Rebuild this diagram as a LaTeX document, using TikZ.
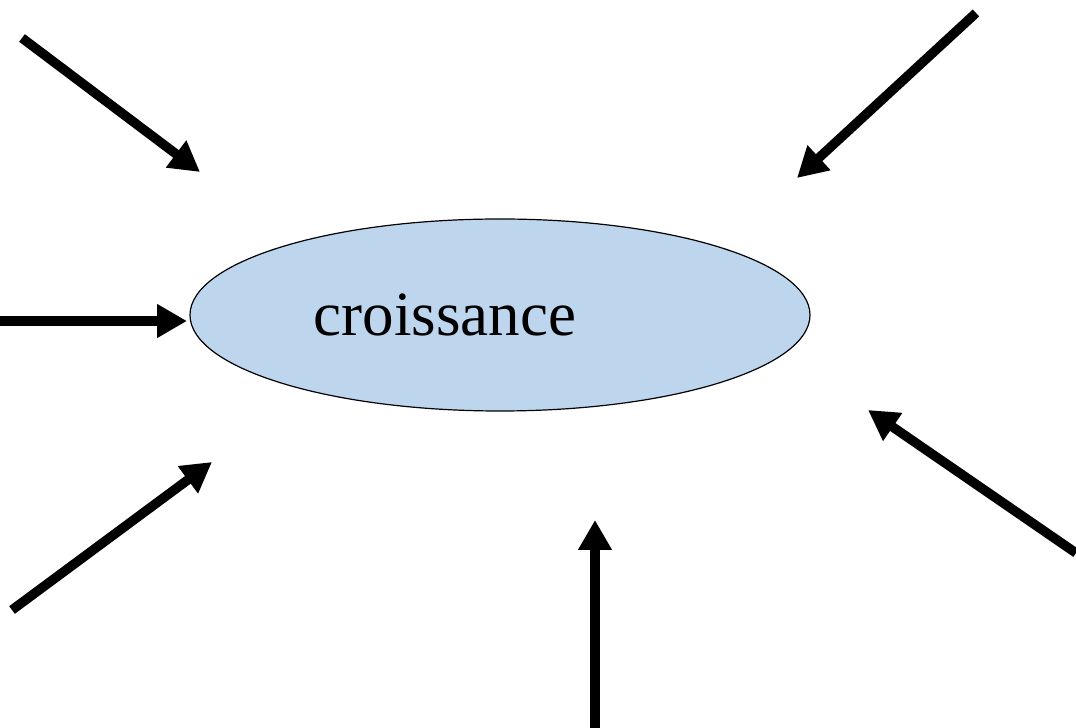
\documentclass[tikz,border=0pt]{standalone}
\usepackage{fontspec}
\setmainfont{Liberation Serif}
\usetikzlibrary{arrows.meta,shapes.geometric}
\definecolor{ellblue}{RGB}{189,214,238}
\begin{document}
\begin{tikzpicture}[x=1pt,y=1pt,
  bigarrow/.style={line width=9.5pt,-{Triangle[length=30pt,width=32pt]}}]
\useasboundingbox (0,0) rectangle (1076,728);
\node[ellipse,draw=black,line width=1.2pt,fill=ellblue,minimum width=620pt,minimum height=192pt,inner sep=0pt] (e) at (500,413) {};
\node[anchor=base,font=\fontsize{63}{70}\selectfont,inner sep=0pt] (t) at (445,392) {croissance};
\coordinate (s1) at (22,690); \coordinate (t1) at (200,556);
\coordinate (s2) at (976,715); \coordinate (t2) at (797,550);
\coordinate (s3) at (0,407); \coordinate (t3) at (187,407);
\coordinate (s4) at (12,118); \coordinate (t4) at (212,266);
\coordinate (s5) at (595,0); \coordinate (t5) at (595,208);
\coordinate (s6) at (1076,175); \coordinate (t6) at (868,318);
\foreach \i in {1,...,6} {\draw[bigarrow] (s\i) -- (t\i);}
\end{tikzpicture}
\end{document}
